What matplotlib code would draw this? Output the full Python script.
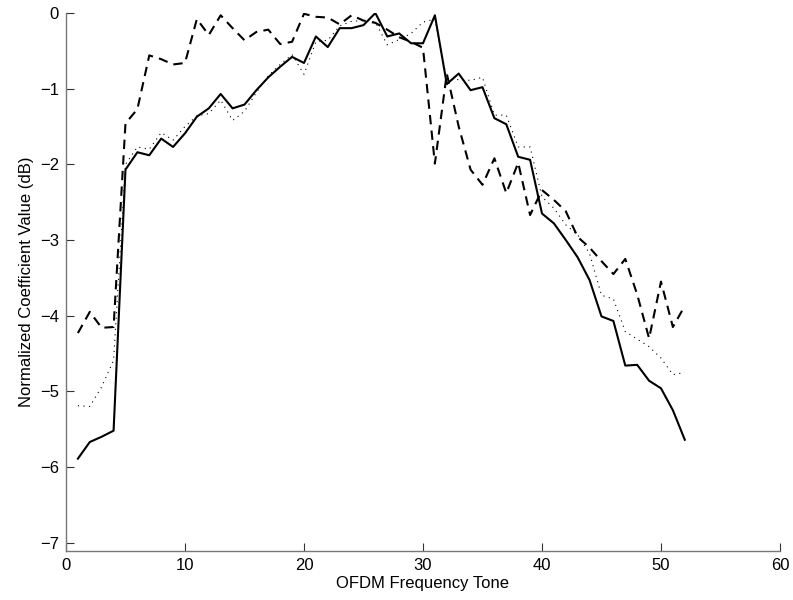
import matplotlib
matplotlib.use("Agg")  # headless
import matplotlib.pyplot as plt
import numpy as np

# OFDM tone index
tones = np.arange(1, 53)

# solid curve
solid_db = [
    -5.89, -5.67, -5.60, -5.52, -2.07, -1.84, -1.88, -1.66, -1.77, -1.59,
    -1.37, -1.26, -1.07, -1.26, -1.21, -1.02, -0.85, -0.71, -0.58, -0.66,
    -0.31, -0.45, -0.20, -0.20, -0.16, 0.00, -0.31, -0.27, -0.40, -0.40,
    -0.03, -0.94, -0.80, -1.02, -0.98, -1.39, -1.47, -1.90, -1.94, -2.65,
    -2.78, -3.00, -3.23, -3.53, -4.01, -4.07, -4.66, -4.65, -4.86, -4.96,
    -5.25, -5.64,
]

# dashed curve
dashed_db = [
    -4.23, -3.95, -4.16, -4.15, -1.46, -1.27, -0.56, -0.61, -0.68, -0.66,
    -0.08, -0.29, -0.03, -0.20, -0.36, -0.25, -0.22, -0.41, -0.38, -0.01,
    -0.05, -0.06, -0.15, -0.03, -0.10, -0.13, -0.22, -0.32, -0.38, -0.46,
    -1.99, -0.80, -1.50, -2.07, -2.27, -1.92, -2.38, -1.98, -2.67, -2.34,
    -2.47, -2.62, -2.96, -3.10, -3.28, -3.45, -3.25, -3.72, -4.30, -3.55,
    -4.15, -3.87,
]

# dotted curve
dotted_db = [
    -5.19, -5.20, -4.94, -4.59, -2.00, -1.77, -1.80, -1.58, -1.68, -1.50,
    -1.36, -1.33, -1.15, -1.42, -1.30, -1.05, -0.83, -0.68, -0.55, -0.81,
    -0.38, -0.36, -0.17, -0.11, -0.10, -0.12, -0.42, -0.35, -0.27, -0.12,
    -0.08, -0.88, -0.88, -0.89, -0.85, -1.35, -1.35, -1.77, -1.77, -2.43,
    -2.58, -2.80, -2.93, -3.18, -3.73, -3.78, -4.21, -4.31, -4.41, -4.56,
    -4.78, -4.75,
]

plt.rcParams['font.family'] = ['Liberation Sans', 'DejaVu Sans']

fig = plt.figure(figsize=(7.93, 6.0), dpi=100)
ax = fig.add_axes([0.0832, 0.0817, 0.9004, 0.8966])

ax.plot(tones, solid_db, color="black", linewidth=1.5)
ax.plot(tones, dashed_db, color="black", linewidth=1.5, dashes=(4.5, 3.0))
ax.plot(tones, dotted_db, color="black", linewidth=0.8, dashes=(1.0, 4.0))

ax.set_xlim(0, 60)
ax.set_ylim(-7.11, 0)
ax.set_xticks(range(0, 61, 10))
ax.set_yticks(range(-7, 1))

for side in ("top", "right"):
    ax.spines[side].set_visible(False)
for side in ("left", "bottom"):
    ax.spines[side].set_color("#777777")
    ax.spines[side].set_linewidth(1.0)

ax.tick_params(direction="in", length=5.5, width=0.8, color="#333333",
               labelsize=12, pad=5)
ax.set_xlabel("OFDM Frequency Tone", fontsize=12, labelpad=2)
ax.set_ylabel("Normalized Coefficient Value (dB)", fontsize=12, labelpad=4)

fig.savefig("out.png", dpi=100)
plt.close(fig)
